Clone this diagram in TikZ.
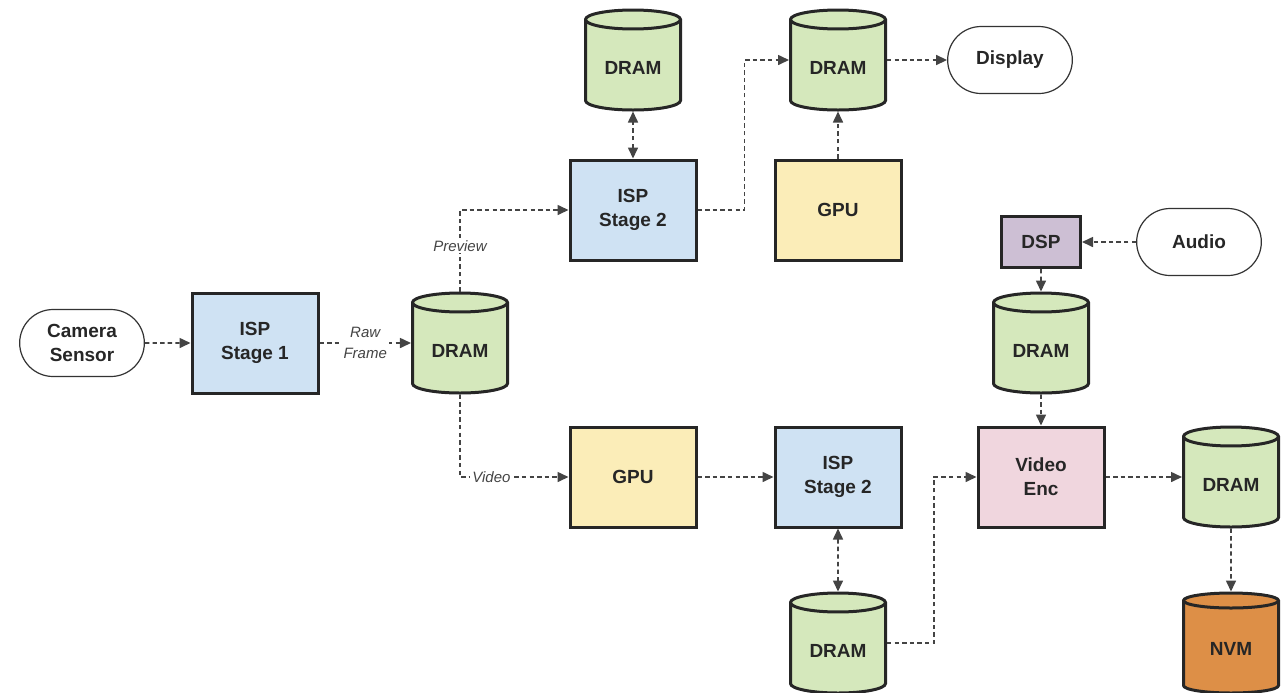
\documentclass[tikz,border=0pt]{standalone}
\usepackage{fontspec}
\setmainfont{Liberation Sans}
\usepackage{xcolor}
\usepackage{tikz}
\usetikzlibrary{arrows.meta,shapes.geometric,shapes.misc}
\definecolor{ispblue}{HTML}{CFE2F3}
\definecolor{dramgreen}{HTML}{D5E8BC}
\definecolor{gpuyellow}{HTML}{FBEDB8}
\definecolor{encpink}{HTML}{F0D6DE}
\definecolor{dsppurple}{HTML}{CDBFD4}
\definecolor{nvmorange}{HTML}{DD8F47}
\definecolor{flowgray}{HTML}{444444}

\tikzset{
  boxtext/.style={font=\bfseries\fontsize{9.5}{12}\selectfont, text=black!85, align=center},
  block/.style={boxtext, draw=black!85, line width=1.5pt, minimum width=63pt, minimum height=50pt},
  dram/.style={boxtext, cylinder, shape border rotate=90, aspect=0.27, draw=black!85,
    line width=1.5pt, minimum width=47.5pt, minimum height=50pt, fill=dramgreen,
    anchor=shape center},
  terminal/.style={boxtext, rounded rectangle, draw=black!80, line width=0.6pt,
    minimum width=69pt, minimum height=33.5pt},
  flow/.style={draw=flowgray, line width=0.8pt, dash pattern=on 2.2pt off 1.6pt,
    -{Triangle[length=5.5pt,width=5pt]}},
  flowboth/.style={flow, {Triangle[length=5.5pt,width=5pt]}-{Triangle[length=5.5pt,width=5pt]}},
  lbl/.style={font=\itshape\fontsize{7.5}{10.5}\selectfont, text=flowgray, fill=white,
    inner sep=1pt, align=center},
}

\begin{document}
\begin{tikzpicture}[x=0.5pt,y=-0.5pt]
  \useasboundingbox (0,0) rectangle (1281,692);

  % capture path
  \node[terminal] (cam) at (82,343) {Camera\\Sensor};
  \node[block,fill=ispblue] (isp1) at (255,343) {ISP\\Stage 1};
  \node[dram] (dram1) at (460,343) {DRAM};

  % preview branch
  \node[block,fill=ispblue] (isp2a) at (633,210) {ISP\\Stage 2};
  \node[dram] (dram2) at (633,60) {DRAM};
  \node[dram] (dram3) at (838,60) {DRAM};
  \node[terminal] (disp) at (1010,60) {Display};
  \node[block,fill=gpuyellow] (gpu1) at (838,210) {GPU};

  % audio
  \node[boxtext,draw=black!85,line width=1.5pt,fill=dsppurple,minimum width=39.5pt,
    minimum height=25.5pt] (dsp) at (1041,242) {DSP};
  \node[terminal] (audio) at (1199,242) {Audio};
  \node[dram] (dram4) at (1041,343) {DRAM};

  % video branch
  \node[block,fill=gpuyellow] (gpu2) at (633,477) {GPU};
  \node[block,fill=ispblue] (isp2b) at (838,477) {ISP\\Stage 2};
  \node[block,fill=encpink] (enc) at (1041,477) {Video\\Enc};
  \node[dram] (dram5) at (838,643) {DRAM};
  \node[dram] (dram6) at (1231,477) {DRAM};
  \node[dram,fill=nvmorange] (nvm) at (1231,643) {NVM};

  \draw[flow] (cam) -- (isp1);
  \draw[flow] (isp1) -- node[lbl]{Raw\\Frame} (isp1 -| dram1.west);
  \draw[flow] (dram1.north) |- node[lbl,pos=0.28]{Preview} (isp2a.west);
  \draw[flow] (dram1.south) |- node[lbl,pos=0.645]{Video} (gpu2.west);
  \draw[flowboth] (isp2a.north) -- (dram2.south);
  \draw[flow] (isp2a.east) -- ++(47,0) |- (dram3.west |- dram3.shape center);
  \draw[flow] (gpu1.north) -- (dram3.south);
  \draw[flow] (dram3.east |- disp) -- (disp);
  \draw[flow] (audio) -- (dsp);
  \draw[flow] (dsp.south) -- (dram4.north);
  \draw[flow] (dram4.south) -- (enc.north);
  \draw[flow] (gpu2) -- (isp2b);
  \draw[flowboth] (isp2b.south) -- (dram5.north);
  \draw[flow] (dram5.east |- dram5.shape center) -- ++(47,0) |- (enc.west);
  \draw[flow] (enc) -- (enc -| dram6.west);
  \draw[flow] (dram6.south) -- (nvm.north);
\end{tikzpicture}
\end{document}
